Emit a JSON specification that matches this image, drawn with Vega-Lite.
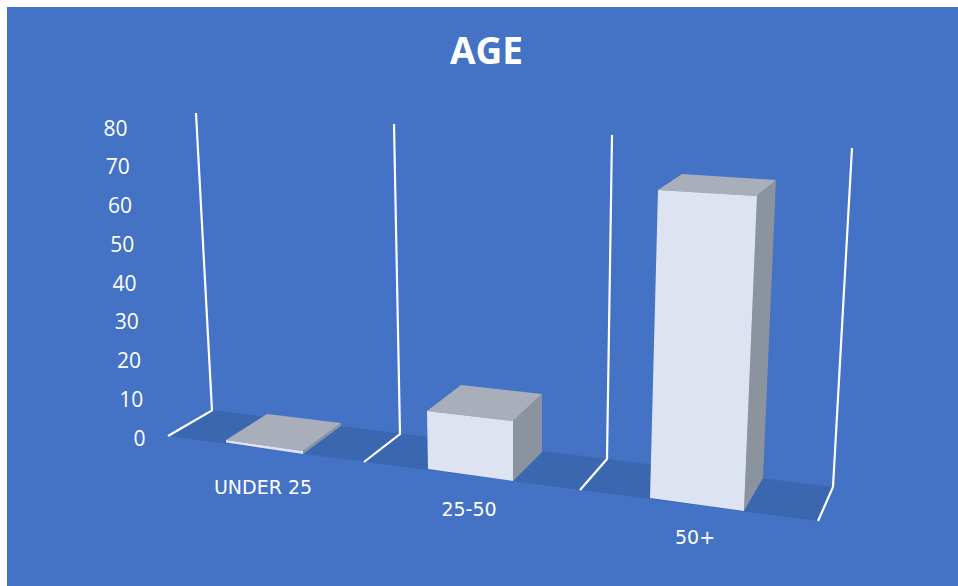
{"$schema":"https://vega.github.io/schema/vega-lite/v6.json","width":951,"height":579,"autosize":"none","padding":{"left":7,"top":7,"right":0,"bottom":0},"background":"#ffffff","view":{"fill":"#4472C4","stroke":null},"title":{"text":"AGE","font":"Open Sans","fontSize":37,"fontWeight":"bold","color":"#ffffff","anchor":"middle","dy":69,"dx":4},"data":{"values":[{"age":"Under 25","label":"UNDER 25","value":1},{"age":"25-50","label":"25-50","value":15},{"age":"50+","label":"50+","value":71}]},"layer":[
{"transform":[{"filter":"datum.age=='Under 25'"}],"mark":{"type":"point","filled":true,"opacity":1,"size":4,"fill":"#3B67B0","stroke":null,"shape":"M-52.5,-26L568.5,51L553.5,85L-96.5,0Z"},"encoding":{"x":{"field":"age","type":"nominal","axis":null,"scale":{"type":"band","domain":["Under 25"],"range":[219,296],"padding":0}},"y":{"datum":0,"type":"quantitative","title":null,"scale":{"domain":[0,80],"range":[429,119],"nice":false},"axis":{"domain":false,"ticks":false,"grid":false,"values":[0,10,20,30,40,50,60,70,80],"labelFont":"Open Sans","labelFontSize":21,"labelColor":"#ffffff","labelPadding":{"expr":"datum.value*0.225"},"labelOffset":3,"offset":-138,"title":null}}}},
{"transform":[{"filter":"datum.age=='Under 25'"}],"mark":{"type":"point","filled":false,"fill":null,"opacity":1,"size":4,"stroke":"#ffffff","strokeWidth":2.2,"shape":"M-96.5,0L-52.5,-25.5L-68.5,-323M99.5,26L135.5,-2L129.5,-312M315.5,54L342.5,23L347.5,-301M553.5,85L568.5,51L587.5,-288"},"encoding":{"x":{"field":"age","type":"nominal","axis":null,"scale":{"type":"band","domain":["Under 25"],"range":[219,296],"padding":0}},"y":{"datum":0,"type":"quantitative","axis":null,"scale":{"domain":[0,80],"range":[429,119],"nice":false}}}},

{"transform":[{"filter":"datum.age=='Under 25'"}],"mark":{"type":"point","filled":true,"opacity":1,"size":4,"fill":"#8A939E","stroke":null,"shape":"M38.5,4L76.5,-24L76.5,-21L38.5,7Z"},"encoding":{"x":{"field":"age","type":"nominal","axis":null,"scale":{"type":"band","domain":["Under 25"],"range":[219,296],"padding":0}},"y":{"field":"value","type":"quantitative","axis":null,"scale":{"domain":[0,80],"range":[443,203],"nice":false}}}},
{"transform":[{"filter":"datum.age=='Under 25'"}],"mark":{"type":"point","filled":true,"opacity":1,"size":4,"fill":"#A8AFBA","stroke":null,"shape":"M2.5,-33L76.5,-24L38.5,4L-38.5,-7Z"},"encoding":{"x":{"field":"age","type":"nominal","axis":null,"scale":{"type":"band","domain":["Under 25"],"range":[219,296],"padding":0}},"y":{"field":"value","type":"quantitative","axis":null,"scale":{"domain":[0,80],"range":[443,203],"nice":false}}}},
{"transform":[{"filter":"datum.age=='Under 25'"}],"mark":{"type":"point","filled":true,"opacity":1,"size":4,"fill":"#DDE3F1","stroke":null,"shape":"M-38.5,-7L38.5,4L38.5,7L-38.5,-4.5Z"},"encoding":{"x":{"field":"age","type":"nominal","axis":null,"scale":{"type":"band","domain":["Under 25"],"range":[219,296],"padding":0}},"y":{"field":"value","type":"quantitative","axis":null,"scale":{"domain":[0,80],"range":[443,203],"nice":false}}}},
{"transform":[{"filter":"datum.age=='Under 25'"}],"mark":{"type":"text","font":"DejaVu Sans","fontSize":19,"color":"#ffffff","align":"center","baseline":"middle","dx":-1.5,"dy":41},"encoding":{"text":{"field":"label"},"x":{"field":"age","type":"nominal","axis":null,"scale":{"type":"band","domain":["Under 25"],"range":[219,296],"padding":0}},"y":{"field":"value","type":"quantitative","axis":null,"scale":{"domain":[0,80],"range":[443,203],"nice":false}}}},

{"transform":[{"filter":"datum.age=='25-50'"}],"mark":{"type":"point","filled":true,"opacity":1,"size":4,"fill":"#8A939E","stroke":null,"shape":"M42.5,0L71.5,-27L71.5,31L42.5,60Z"},"encoding":{"x":{"field":"age","type":"nominal","axis":null,"scale":{"type":"band","domain":["25-50"],"range":[421,506],"padding":0}},"y":{"field":"value","type":"quantitative","axis":null,"scale":{"domain":[0,80],"range":[462,206],"nice":false}}}},
{"transform":[{"filter":"datum.age=='25-50'"}],"mark":{"type":"point","filled":true,"opacity":1,"size":4,"fill":"#A8AFBA","stroke":null,"shape":"M-9.5,-36L71.5,-27L42.5,0L-43.5,-10Z"},"encoding":{"x":{"field":"age","type":"nominal","axis":null,"scale":{"type":"band","domain":["25-50"],"range":[421,506],"padding":0}},"y":{"field":"value","type":"quantitative","axis":null,"scale":{"domain":[0,80],"range":[462,206],"nice":false}}}},
{"transform":[{"filter":"datum.age=='25-50'"}],"mark":{"type":"point","filled":true,"opacity":1,"size":4,"fill":"#DDE3F1","stroke":null,"shape":"M-43.5,-10L42.5,0L42.5,60L-42.5,48Z"},"encoding":{"x":{"field":"age","type":"nominal","axis":null,"scale":{"type":"band","domain":["25-50"],"range":[421,506],"padding":0}},"y":{"field":"value","type":"quantitative","axis":null,"scale":{"domain":[0,80],"range":[462,206],"nice":false}}}},
{"transform":[{"filter":"datum.age=='25-50'"}],"mark":{"type":"bar","fill":"#DDE3F1"},"encoding":{"x":{"field":"age","type":"nominal","axis":null,"scale":{"type":"band","domain":["25-50"],"range":[421,506],"padding":0}},"y":{"field":"value","type":"quantitative","axis":null,"scale":{"domain":[0,80],"range":[462,206],"nice":false}}}},
{"transform":[{"filter":"datum.age=='25-50'"}],"mark":{"type":"text","font":"DejaVu Sans","fontSize":19,"color":"#ffffff","align":"center","baseline":"middle","dx":-1.5,"dy":89},"encoding":{"text":{"field":"label"},"x":{"field":"age","type":"nominal","axis":null,"scale":{"type":"band","domain":["25-50"],"range":[421,506],"padding":0}},"y":{"field":"value","type":"quantitative","axis":null,"scale":{"domain":[0,80],"range":[462,206],"nice":false}}}},

{"transform":[{"filter":"datum.age=='50+'"}],"mark":{"type":"point","filled":true,"opacity":1,"size":4,"fill":"#8A939E","stroke":null,"shape":"M56,0L75,-16L62,282L43,315Z"},"encoding":{"x":{"field":"age","type":"nominal","axis":null,"scale":{"type":"band","domain":["50+"],"range":[651,737],"padding":0}},"y":{"field":"value","type":"quantitative","axis":null,"scale":{"domain":[0,80],"range":[491,150.7],"nice":false}}}},
{"transform":[{"filter":"datum.age=='50+'"}],"mark":{"type":"point","filled":true,"opacity":1,"size":4,"fill":"#A8AFBA","stroke":null,"shape":"M-19,-22L75,-16L56,0L-43,-6Z"},"encoding":{"x":{"field":"age","type":"nominal","axis":null,"scale":{"type":"band","domain":["50+"],"range":[651,737],"padding":0}},"y":{"field":"value","type":"quantitative","axis":null,"scale":{"domain":[0,80],"range":[491,150.7],"nice":false}}}},
{"transform":[{"filter":"datum.age=='50+'"}],"mark":{"type":"point","filled":true,"opacity":1,"size":4,"fill":"#DDE3F1","stroke":null,"shape":"M-43,-6L56,0L43,315L-51,302Z"},"encoding":{"x":{"field":"age","type":"nominal","axis":null,"scale":{"type":"band","domain":["50+"],"range":[651,737],"padding":0}},"y":{"field":"value","type":"quantitative","axis":null,"scale":{"domain":[0,80],"range":[491,150.7],"nice":false}}}},
{"transform":[{"filter":"datum.age=='50+'"}],"mark":{"type":"bar","fill":"#DDE3F1"},"encoding":{"x":{"field":"age","type":"nominal","axis":null,"scale":{"type":"band","domain":["50+"],"range":[651,737],"padding":0}},"y":{"field":"value","type":"quantitative","axis":null,"scale":{"domain":[0,80],"range":[491,150.7],"nice":false}}}},
{"transform":[{"filter":"datum.age=='50+'"}],"mark":{"type":"text","font":"DejaVu Sans","fontSize":19,"color":"#ffffff","align":"center","baseline":"middle","dx":-6,"dy":342},"encoding":{"text":{"field":"label"},"x":{"field":"age","type":"nominal","axis":null,"scale":{"type":"band","domain":["50+"],"range":[651,737],"padding":0}},"y":{"field":"value","type":"quantitative","axis":null,"scale":{"domain":[0,80],"range":[491,150.7],"nice":false}}}}
],"resolve":{"scale":{"x":"independent","y":"independent"},"axis":{"x":"independent","y":"independent"}}}
